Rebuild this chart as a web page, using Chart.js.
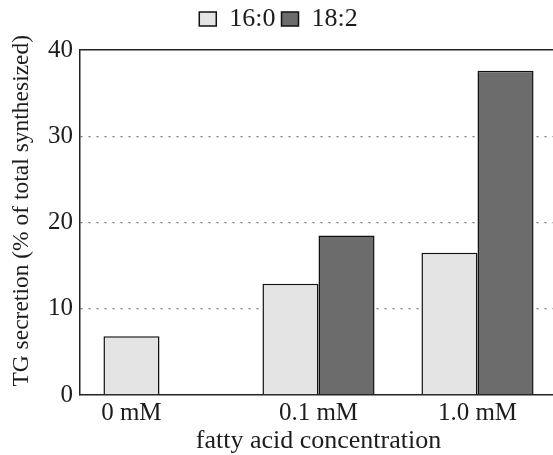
<!DOCTYPE html>
<html>
<head>
<meta charset="utf-8">
<script src="https://cdn.jsdelivr.net/npm/chart.js@4"></script>
<style>
  html, body { margin: 0; padding: 0; background: #fff; overflow: hidden; }
  #wrap { width: 600px; height: 455px; }
</style>
</head>
<body>
<div id="wrap"><canvas id="chart"></canvas></div>
<script>
// valores
const categorias = ['0 mM', '0.1 mM', '1.0 mM'];
const serie160 = [6.8, 12.9, 16.5];
const serie182 = [null, 18.5, 37.6];
const ticksY = [0, 10, 20, 30, 40];

const fuente = 'Liberation Serif';
const tinta = '#1c1c1c';

const ctx = document.getElementById('chart').getContext('2d');

const myChart = new Chart(ctx, {
  type: 'bar',
  data: {
    labels: categorias,
    datasets: [{
      label: '16:0',
      data: serie160,
      backgroundColor: '#e4e4e4',
      borderColor: '#111',
      borderWidth: 1.5
    }, {
      label: '18:2',
      data: serie182,
      backgroundColor: '#6c6c6c',
      borderColor: '#111',
      borderWidth: 1.5
    }]
  },
  options: {
    responsive: true,
    maintainAspectRatio: false,
    animation: false,
    barPercentage: 1,
    categoryPercentage: 0.705,
    layout: { padding: { top: 0, right: 43, left: 0, bottom: 0 } },
    plugins: {
      legend: {
        position: 'top',
        labels: {
          color: tinta,
          font: { family: fuente, size: 26 },
          boxWidth: 17,
          boxHeight: 14,
          padding: 6,
          useBorderRadius: false
        }
      },
      tooltip: { enabled: false }
    },
    scales: {
      x: {
        afterFit: function (scale) { scale.height = 60; },
        grid: { display: false, drawTicks: false },
        border: { color: '#222', width: 1.5 },
        ticks: {
          color: tinta,
          font: { family: fuente, size: 25 },
          padding: 3,
          // la etiqueta de 0 mM va debajo de la primera barra
          callback: function (v, i) {
            const t = categorias[i];
            return i === 0 ? t + '         ' : t;
          }
        },
        title: {
          display: true,
          text: 'fatty acid concentration',
          color: tinta,
          font: { family: fuente, size: 26 },
          padding: { top: 0, bottom: -2 }
        }
      },
      xTop: {
        position: 'top',
        grid: { display: false },
        border: { color: '#222', width: 1.5 },
        ticks: { display: false }
      },
      y: {
        min: 0,
        max: 40,
        afterBuildTicks: function (scale) {
          scale.ticks = ticksY.map(v => ({ value: v }));
        },
        afterFit: function (scale) { scale.width = 80; },
        grid: {
          drawTicks: false,
          color: function (c) {
            return (c.tick.value === 0 || c.tick.value === 40) ? 'rgba(0,0,0,0)' : '#777';
          },
          lineWidth: 1.3
        },
        border: { color: '#222', width: 1.5, dash: [2, 6] },
        ticks: {
          color: tinta,
          font: { family: fuente, size: 25 },
          padding: 7
        },
        title: {
          display: true,
          text: '    TG secretion (% of total synthesized)',
          color: tinta,
          font: { family: fuente, size: 23.5 },
          padding: { top: 8, bottom: 0 }
        }
      }
    }
  }
});
</script>
</body>
</html>
